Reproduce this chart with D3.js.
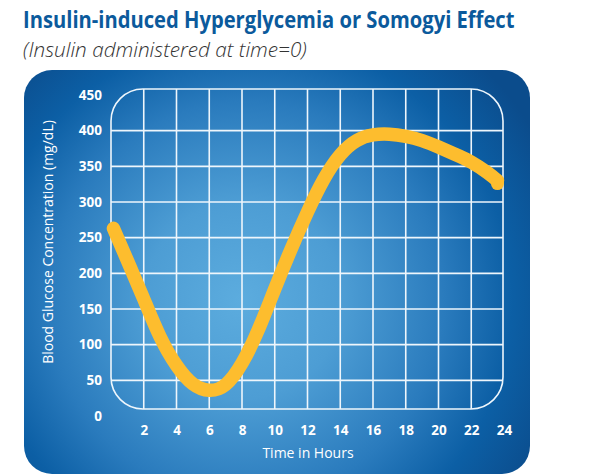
<!DOCTYPE html>
<html>
<head>
<meta charset="utf-8">
<script src="https://cdn.jsdelivr.net/npm/d3@7"></script>
<style>
  html, body { margin: 0; padding: 0; background: #ffffff; }
  svg { display: block; }
  text { font-family: "Open Sans", "Noto Sans", sans-serif; }
</style>
</head>
<body>
<script>
// ---- Data ----
const chartTitle = "Insulin-induced Hyperglycemia or Somogyi Effect";
const chartSubtitle = "(Insulin administered at time=0)";
const xAxisTitle = "Time in Hours";
const yAxisTitle = "Blood Glucose Concentration (mg/dL)";
const xTicks = [2, 4, 6, 8, 10, 12, 14, 16, 18, 20, 22, 24];
const yTicks = [0, 50, 100, 150, 200, 250, 300, 350, 400, 450];
const timeHours = [0.15, 1, 2, 3, 4, 5, 6, 7, 8, 9, 10, 11, 12, 13, 14, 15, 16, 17, 18, 19, 20, 21, 22, 23, 23.6];
const glucose   = [263, 218, 164, 111, 71, 45, 36, 44, 74, 121, 178, 234, 286, 332, 366, 386, 394, 395, 392, 386, 377, 367, 356, 341, 330];

const W = 600, H = 475;
const svg = d3.select("body").append("svg").attr("width", W).attr("height", H);

const x = d3.scaleLinear().domain([0, 24]).range([111, 504]);
const y = d3.scaleLinear().domain([0, 450]).range([416, 95]);

const defs = svg.append("defs");
const grad = defs.append("radialGradient").attr("id", "bg")
  .attr("gradientUnits", "userSpaceOnUse")
  .attr("cx", 250).attr("cy", 300).attr("r", 330)
  .attr("fx", 240).attr("fy", 300);
[[0, "#5cacde"], [0.3, "#4d9dd4"], [0.6, "#2a7bbd"], [0.8, "#0c5fa5"], [1, "#0b4c8c"]]
  .forEach(([o, c]) => grad.append("stop").attr("offset", o).attr("stop-color", c));

// Panel
svg.append("rect").attr("x", 24).attr("y", 70).attr("width", 506).attr("height", 404)
  .attr("rx", 28).attr("ry", 28).attr("fill", "url(#bg)");

// Plot frame
const fx0 = x(0), fx1 = x(24) - 1, fy0 = y(450) - 6, fy1 = y(0) - 7;
defs.append("clipPath").attr("id", "frameClip").append("rect")
  .attr("x", fx0).attr("y", fy0).attr("width", fx1 - fx0).attr("height", fy1 - fy0)
  .attr("rx", 32).attr("ry", 32);

const grid = svg.append("g").attr("clip-path", "url(#frameClip)");
grid.selectAll("line.v").data(xTicks.filter(d => d < 24)).join("line")
  .attr("x1", d => x(d)).attr("x2", d => x(d)).attr("y1", fy0).attr("y2", fy1)
  .attr("stroke", "#eef6fc").attr("stroke-width", 1.6);
grid.selectAll("line.h").data(yTicks.filter(d => d > 0 && d < 450)).join("line")
  .attr("y1", d => y(d)).attr("y2", d => y(d)).attr("x1", fx0).attr("x2", fx1)
  .attr("stroke", "#eef6fc").attr("stroke-width", 1.6);
svg.append("rect")
  .attr("x", fx0).attr("y", fy0).attr("width", fx1 - fx0).attr("height", fy1 - fy0)
  .attr("rx", 32).attr("ry", 32).attr("fill", "none")
  .attr("stroke", "#eef6fc").attr("stroke-width", 1.6);

// Axes
const yAxis = svg.append("g").attr("transform", "translate(102,0)")
  .call(d3.axisLeft(y).tickValues(yTicks).tickSize(0).tickPadding(0));
const xAxis = svg.append("g").attr("transform", "translate(0,425)")
  .call(d3.axisBottom(x).tickValues(xTicks).tickSize(0).tickPadding(0));
[yAxis, xAxis].forEach(g => {
  g.select(".domain").remove();
  g.selectAll("text").attr("fill", "#ffffff").attr("font-size", 13.5)
    .attr("font-weight", "bold").attr("font-family", "'Open Sans', sans-serif");
});

// Curve
const pts = timeHours.map((t, i) => [t, glucose[i]]);
const line = d3.line().x(d => x(d[0])).y(d => y(d[1])).curve(d3.curveNatural);
svg.append("path").attr("d", line(pts)).attr("fill", "none")
  .attr("stroke", "#fdbd2e").attr("stroke-width", 13.5)
  .attr("stroke-linecap", "round").attr("stroke-linejoin", "round");
const last = pts[pts.length - 1];
svg.append("circle").attr("cx", x(last[0])).attr("cy", y(last[1]) + 3).attr("r", 6.5).attr("fill", "#fdbd2e");

// Titles (condensed by horizontal scaling to match the reference width)
function fitText(sel, targetW, tx, ty) {
  const w = sel.node().getComputedTextLength();
  sel.attr("transform", `translate(${tx},${ty}) scale(${targetW / w},1)`);
}
const t1 = svg.append("text").attr("x", 0).attr("y", 0).text(chartTitle)
  .attr("font-size", 24).attr("font-weight", "bold").attr("fill", "#0b5a9c");
fitText(t1, 492, 23, 28);
const t2 = svg.append("text").attr("x", 0).attr("y", 0).text(chartSubtitle)
  .attr("font-size", 21).attr("font-style", "italic").attr("font-weight", 300).attr("fill", "#333333");
fitText(t2, 284, 23, 57);

svg.append("text").attr("x", 308).attr("y", 458).attr("text-anchor", "middle")
  .text(xAxisTitle).attr("font-size", 14).attr("fill", "#ffffff");
svg.append("text").attr("transform", "translate(53,242) rotate(-90)").attr("text-anchor", "middle")
  .text(yAxisTitle).attr("font-size", 14).attr("fill", "#ffffff");
</script>
</body>
</html>
